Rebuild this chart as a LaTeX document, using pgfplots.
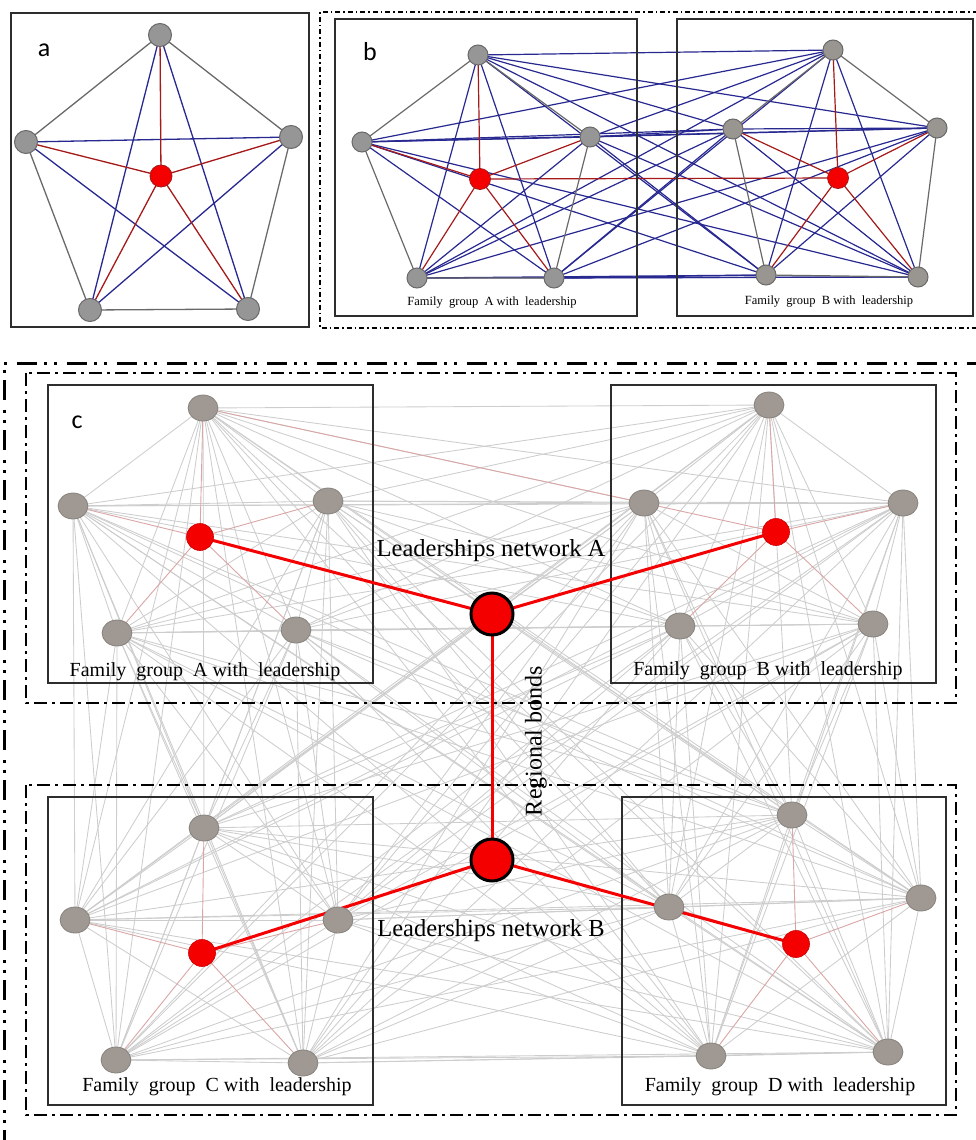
\documentclass[border=0pt]{standalone}
\usepackage{pgfplots}
\pgfplotsset{compat=1.18}
\usepackage{pgfplotstable}
\usepackage{fontspec}
\setmainfont{Liberation Serif}
\newfontfamily\labfont{Carlito}
\definecolor{nodegray}{RGB}{150,150,150}
\definecolor{nodeedge}{RGB}{105,105,105}
\definecolor{nodegrayB}{RGB}{153,149,144}
\definecolor{cnode}{RGB}{160,153,147}
\definecolor{cnodeedge}{RGB}{135,130,125}
\definecolor{edgegray}{RGB}{105,105,105}
\definecolor{edgeblue}{RGB}{40,40,145}
\definecolor{edgered}{RGB}{165,25,25}
\definecolor{lightedge}{RGB}{205,205,205}
\definecolor{pinkedge}{RGB}{218,165,165}
\definecolor{leadred}{RGB}{245,0,0}
\definecolor{boxline}{RGB}{45,45,45}

\pgfplotsset{
  aedge/.style={line width=1.3pt, line join=round, no markers},
  bedge/.style={line width=1.2pt, color=edgeblue, no markers},
  cedge/.style={line width=0.85pt, color=lightedge, no markers},
}

% ---- node positions (pixels, y downward) ----
\pgfplotstableread{
x y
160 35
26 142
291 137
90 310
248 309
}\agray
\pgfplotstableread{
x y
161 176
}\ared
\pgfplotstableread{
x y
478 55
362 142
590 137
417 278
554 278
}\bAgraytab
\pgfplotstableread{
x y
833 50
733 129
937 128
766 275
918 277
}\bBgraytab
\pgfplotstableread{
x y
480 179
838 178
}\bred
\pgfplotstableread{
x y
203 408
73 506
328 501
117 633
296 630
769 405
644 503
903 503
680 626
873 624
204 828
75 920
338 920
116 1060
303 1063
792 815
669 907
921 898
711 1056
888 1052
}\cgray
\pgfplotstableread{
x y
200 537
776 532
202 953
796 944
}\cred
\pgfplotstableread{
x y
492 614
492 860
}\clead

\def\bAgray{478/55,362/142,590/137,417/278,554/278}
\def\bBgray{833/50,733/129,937/128,766/275,918/277}
\def\cgraylist{203/408,73/506,328/501,117/633,296/630,769/405,644/503,903/503,680/626,873/624,204/828,75/920,338/920,116/1060,303/1063,792/815,669/907,921/898,711/1056,888/1052}

\newcommand\bipartite[3]{%
  \foreach \xa/\ya in #2{%
    \foreach \xb/\yb in #3{%
      \edef\tmp{\noexpand\addplot[#1] coordinates {(\xa,\ya) (\xb,\yb)};}\tmp
    }}}
\newcommand\complete[2]{%
  \foreach \xa/\ya [count=\i] in #2{%
    \foreach \xb/\yb [count=\j] in #2{%
      \ifnum\j>\i\relax
        \edef\tmp{\noexpand\addplot[#1] coordinates {(\xa,\ya) (\xb,\yb)};}\tmp
      \fi
    }}}

\begin{document}
\begin{tikzpicture}
\useasboundingbox (0,0) rectangle (976pt,1140pt);
\begin{axis}[
  at={(0pt,0pt)}, anchor=south west,
  scale only axis, width=976pt, height=1140pt,
  xmin=0, xmax=976, ymin=0, ymax=1140, y dir=reverse,
  hide axis, clip=true,
]
% ================= panel a =================
\addplot[aedge, color=edgegray] coordinates {(160,35) (26,142) (90,310) (248,309) (291,137) (160,35)};
\addplot[aedge, color=edgeblue] coordinates {(160,35) (90,310) (291,137) (26,142) (248,309) (160,35)};
\addplot[aedge, color=edgered] coordinates {(161,176) (160,35) (161,176) (26,142) (161,176) (291,137) (161,176) (90,310) (161,176) (248,309)};
\addplot[only marks, mark=*, mark size=11.5pt, mark options={fill=nodegray, draw=nodeedge, line width=1pt}] table {\agray};
\addplot[only marks, mark=*, mark size=11pt, mark options={fill=leadred, draw=edgered, line width=0.8pt}] table {\ared};
\draw[boxline, line width=1.2pt] (11,13) rectangle (309,327);
\node[font=\labfont\fontsize{26}{30}\selectfont] at (44,50) {a};

% ================= panel b =================
\bipartite{bedge}{\bAgray}{\bBgray}
\addplot[aedge, line width=1.2pt, color=edgered] coordinates {(480,179) (838,178)};
\addplot[aedge, line width=1.2pt, color=edgegray] coordinates {(478,55) (362,142) (417,278) (554,278) (590,137) (478,55)};
\addplot[aedge, line width=1.2pt, color=edgeblue] coordinates {(478,55) (417,278) (590,137) (362,142) (554,278) (478,55)};
\addplot[aedge, line width=1.2pt, color=edgered] coordinates {(480,179) (478,55) (480,179) (362,142) (480,179) (590,137) (480,179) (417,278) (480,179) (554,278)};
\addplot[aedge, line width=1.2pt, color=edgegray] coordinates {(833,50) (733,129) (766,275) (918,277) (937,128) (833,50)};
\addplot[aedge, line width=1.2pt, color=edgeblue] coordinates {(833,50) (766,275) (937,128) (733,129) (918,277) (833,50)};
\addplot[aedge, line width=1.2pt, color=edgered] coordinates {(838,178) (833,50) (838,178) (733,129) (838,178) (937,128) (838,178) (766,275) (838,178) (918,277)};
\addplot[only marks, mark=*, mark size=10pt, mark options={fill=nodegray, draw=nodeedge, line width=1pt}] table {\bAgraytab};
\addplot[only marks, mark=*, mark size=10pt, mark options={fill=nodegrayB, draw=nodeedge, line width=1pt}] table {\bBgraytab};
\addplot[only marks, mark=*, mark size=10.5pt, mark options={fill=leadred, draw=edgered, line width=0.8pt}] table {\bred};
\draw[boxline, line width=1.1pt] (335,19) rectangle (637,316);
\draw[boxline, line width=1.1pt] (677,19) rectangle (973,316);
\draw[black, line width=1.4pt, dash pattern=on 5pt off 3pt on 1.5pt off 3pt] (990,12) -- (320,12) -- (320,328) -- (990,328);
\node[font=\labfont\fontsize{26}{30}\selectfont] at (370,52) {b};
\node[font=\fontsize{12.5}{14}\selectfont] at (492,303) {Family\ \ group\ \ A with\ \ leadership};
\node[font=\fontsize{12.5}{14}\selectfont] at (829,302) {Family\ \ group\ \ B with\ \ leadership};

% ================= panel c =================
\complete{cedge}{\cgraylist}
\addplot[line width=0.9pt, color=pinkedge, line join=round, no markers] coordinates {(200,537) (203,408) (200,537) (73,506) (200,537) (328,501) (200,537) (117,633) (200,537) (296,630)};
\addplot[line width=0.9pt, color=pinkedge, line join=round, no markers] coordinates {(776,532) (769,405) (776,532) (644,503) (776,532) (903,503) (776,532) (680,626) (776,532) (873,624)};
\addplot[line width=0.9pt, color=pinkedge, line join=round, no markers] coordinates {(202,953) (204,828) (202,953) (75,920) (202,953) (338,920) (202,953) (116,1060) (202,953) (303,1063)};
\addplot[line width=0.9pt, color=pinkedge, line join=round, no markers] coordinates {(796,944) (792,815) (796,944) (669,907) (796,944) (921,898) (796,944) (711,1056) (796,944) (888,1052)};
\addplot[line width=0.9pt, color=pinkedge, no markers] coordinates {(203,408) (644,503)};
% boxes
\draw[boxline, line width=1.2pt] (48,385) rectangle (373,683);
\draw[boxline, line width=1.2pt] (611,385) rectangle (936,683);
\draw[boxline, line width=1.2pt] (48,797) rectangle (373,1105);
\draw[boxline, line width=1.2pt] (622,797) rectangle (946,1105);
\draw[black, line width=2.6pt, dash pattern=on 13pt off 5pt on 3pt off 5pt] (26,373) rectangle (956,703);
\draw[black, line width=2.6pt, dash pattern=on 13pt off 5pt on 3pt off 5pt] (26,785) rectangle (956,1115);
\draw[black, line width=3pt, dash pattern=on 20pt off 7pt on 3pt off 7pt on 3pt off 10pt] (4,1150) -- (4,363) -- (990,363);
% leadership links
\addplot[line width=3pt, color=leadred, no markers] coordinates {(200,537) (492,614) (776,532)};
\addplot[line width=3pt, color=leadred, no markers] coordinates {(492,614) (492,860)};
\addplot[line width=3pt, color=leadred, no markers] coordinates {(202,953) (492,860) (796,944)};
% nodes
\addplot[only marks, mark=*, mark size=13pt, mark options={xscale=1.15, fill=cnode, draw=cnodeedge, line width=0.8pt}] table {\cgray};
\addplot[only marks, mark=*, mark size=13.5pt, mark options={fill=leadred, draw=red!80!black, line width=0.6pt}] table {\cred};
\addplot[only marks, mark=*, mark size=21pt, mark options={fill=leadred, draw=black, line width=3pt}] table {\clead};
% texts
\node[font=\labfont\fontsize{26}{30}\selectfont] at (77,422) {c};
\node[font=\fontsize{24.5}{28}\selectfont] at (491,551) {Leaderships network A};
\node[font=\fontsize{24.5}{28}\selectfont] at (491,931) {Leaderships network B};
\node[font=\fontsize{24}{28}\selectfont, rotate=90] at (536,741) {Regional bonds};
\node[font=\fontsize{20}{24}\selectfont] at (205,672) {Family\ \ group\ \ A with\ \ leadership};
\node[font=\fontsize{20}{24}\selectfont] at (768,671) {Family\ \ group\ \ B with\ \ leadership};
\node[font=\fontsize{20}{24}\selectfont] at (217,1087) {Family\ \ group\ \ C with\ \ leadership};
\node[font=\fontsize{20}{24}\selectfont] at (780,1087) {Family\ \ group\ \ D with\ \ leadership};
\end{axis}
\end{tikzpicture}
\end{document}
